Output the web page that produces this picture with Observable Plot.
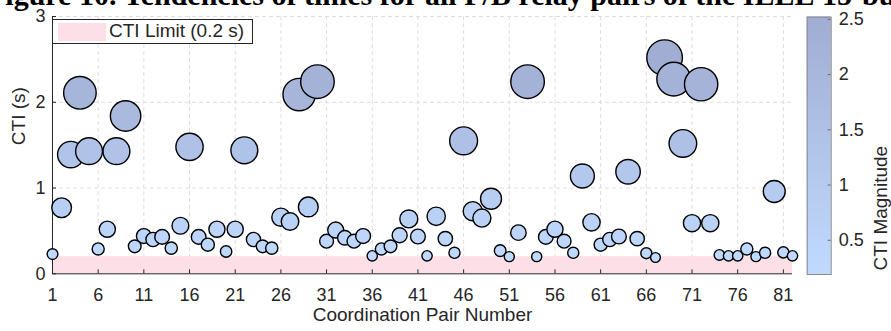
<!DOCTYPE html>
<html>
<head>
<meta charset="utf-8">
<script src="https://cdn.jsdelivr.net/npm/d3@7"></script>
<script src="https://cdn.jsdelivr.net/npm/@observablehq/plot@0.6"></script>
<style>
  html, body { margin: 0; padding: 0; background: #fff; overflow: hidden; }
  #wrap { position: relative; width: 891px; height: 331px; overflow: hidden; background: #fff; }
  #title { position: absolute; left: -13px; top: -20px; font: bold 30px "Liberation Serif", serif; line-height: 30px; white-space: nowrap; color: #000; }
  #legend { position: absolute; left: 52px; top: 19px; width: 201px; height: 25px; box-sizing: border-box; border: 1px solid #262626; background: #fff; }
  #legend .sw { position: absolute; left: 5px; top: 3px; width: 48px; height: 18px; }
  #legend .lb { position: absolute; left: 56px; top: 0; height: 23px; line-height: 23px; font: 19px "Liberation Sans", Arial, sans-serif; color: #262626; white-space: nowrap; }
</style>
</head>
<body>
<div id="wrap"></div>
<script>
// ---- data ----
const cti = [
  0.23, 0.77, 1.39, 2.11, 1.43, 0.29, 0.52, 1.43, 1.84, 0.32,
  0.44, 0.40, 0.43, 0.30, 0.56, 1.48, 0.43, 0.34, 0.52, 0.26,
  0.52, 1.44, 0.40, 0.32, 0.30, 0.66, 0.61, 2.09, 0.78, 2.24,
  0.38, 0.51, 0.42, 0.38, 0.44, 0.21, 0.29, 0.32, 0.45, 0.64,
  0.435, 0.21, 0.67, 0.41, 0.245, 1.55, 0.73, 0.65, 0.875, 0.27,
  0.20, 0.48, 2.24, 0.20, 0.43, 0.52, 0.38, 0.245, 1.14, 0.60,
  0.34, 0.40, 0.435, 1.19, 0.41, 0.24, 0.19, 2.52, 2.27, 1.52,
  0.59, 2.21, 0.59, 0.22, 0.21, 0.21, 0.29, 0.20, 0.245, 0.96,
  0.25, 0.21
];
const pairs = cti.map((_, i) => i + 1);
const xTicks = [1, 6, 11, 16, 21, 26, 31, 36, 41, 46, 51, 56, 61, 66, 71, 76, 81];
const yTicks = [0, 1, 2, 3];
const cbTicks = [0.5, 1, 1.5, 2, 2.5];
const ctiLimit = 0.2;
const titleBold = "Figure 10.";
const titleRest = " Tendencies of times for all P/B relay pairs of the IEEE 15-bus system";
const legendLabel = "CTI Limit (0.2 s)";
const xLabel = "Coordination Pair Number";
const yLabel = "CTI (s)";
const cbLabel = "CTI Magnitude";

// ---- styling ----
const colorRange = ["#c0daff", "#a1add2"];
const limitFill = "#fde0e7";
const ink = "#262626";
const gridStroke = "#dedede";
const W = 891, H = 331;
const mL = 52, mR = 99, mT = 16, mB = 57.7;
const frameW = W - mL - mR, frameH = H - mT - mB;

const cmin = d3.min(cti), cmax = d3.max(cti);
const data = cti.map((v, i) => ({pair: pairs[i], cti: v}));

const main = Plot.plot({
  width: W, height: H,
  marginLeft: mL, marginRight: mR, marginTop: mT, marginBottom: mB,
  x: {domain: [pairs[0], pairs[pairs.length - 1]]},
  y: {domain: [yTicks[0], yTicks[yTicks.length - 1]]},
  r: {domain: [0, cmax], range: [0, 17.8]},
  color: {type: "linear", domain: [cmin, cmax], range: colorRange},
  style: {position: "absolute", left: "0px", top: "0px", fontFamily: "'Liberation Sans', Arial, sans-serif", background: "transparent", color: ink},
  marks: [
    Plot.ruleX(xTicks.slice(1), {x: d => d, stroke: gridStroke, strokeDasharray: "4,3"}),
    Plot.ruleY(yTicks.slice(1), {y: d => d, stroke: gridStroke, strokeDasharray: "4,3"}),
    Plot.rectY([ctiLimit], {x1: pairs[0], x2: pairs[pairs.length - 1], y: d => d, fill: limitFill}),
    Plot.ruleX([pairs[0]], {stroke: ink, strokeWidth: 1}),
    Plot.ruleY([0], {stroke: ink, strokeWidth: 1}),
    Plot.tickX(xTicks, {x: d => d, insetTop: frameH - 4, stroke: ink}),
    Plot.tickY(yTicks, {y: d => d, insetRight: frameW - 4, stroke: ink}),
    Plot.dot(data, {x: "pair", y: "cti", r: "cti", fill: "cti", stroke: "#000", strokeWidth: 1.4, sort: null}),
    Plot.axisX(xTicks, {tickSize: 0, tickPadding: 14, fontSize: 18, label: null, tickFormat: d => String(d), fill: ink}),
    Plot.axisY(yTicks, {tickSize: 0, tickPadding: 7, fontSize: 18, label: null, tickFormat: d => String(d), fill: ink}),
    Plot.text([xLabel], {frameAnchor: "bottom", dy: 47, fontSize: 19, fill: ink}),
    Plot.text([yLabel], {frameAnchor: "left", dx: -34, rotate: -90, fontSize: 19, fill: ink})
  ]
});

// colour bar
const nSteps = 120;
const steps = d3.range(nSteps).map(i => [cmin + (cmax - cmin) * i / nSteps, cmin + (cmax - cmin) * (i + 1) / nSteps]);
const cbar = Plot.plot({
  width: W, height: H,
  marginLeft: 806.7, marginRight: 60.3, marginTop: 16.7, marginBottom: 57,
  x: {domain: [0, 1], axis: null},
  y: {domain: [cmin, cmax]},
  color: {type: "linear", domain: [cmin, cmax], range: colorRange},
  style: {position: "absolute", left: "0px", top: "0px", fontFamily: "'Liberation Sans', Arial, sans-serif", background: "transparent", color: ink},
  marks: [
    Plot.rect(steps, {x1: 0, x2: 1, y1: d => d[0], y2: d => d[1], fill: d => (d[0] + d[1]) / 2, insetTop: -0.4, insetBottom: -0.4}),
    Plot.frame({stroke: "#8a8a8a", strokeWidth: 1}),
    Plot.tickY(cbTicks, {y: d => d, insetLeft: 21, stroke: "#6a6a6a"}),
    Plot.axisY(cbTicks, {anchor: "right", tickSize: 0, tickPadding: 7.6, fontSize: 18, label: null, tickFormat: d => String(d), fill: ink}),
    Plot.text([cbLabel], {frameAnchor: "right", dx: 50, rotate: -90, fontSize: 19, fill: ink})
  ]
});

const wrap = document.getElementById("wrap");
wrap.appendChild(main);

const legend = document.createElement("div");
legend.id = "legend";
legend.innerHTML = `<div class="sw" style="background:${limitFill}"></div><div class="lb"></div>`;
legend.querySelector(".lb").textContent = legendLabel;
wrap.appendChild(legend);

wrap.appendChild(cbar);

const title = document.createElement("div");
title.id = "title";
const b = document.createElement("b");
b.textContent = titleBold;
title.appendChild(b);
title.appendChild(document.createTextNode(titleRest));
wrap.appendChild(title);
</script>
</body>
</html>
